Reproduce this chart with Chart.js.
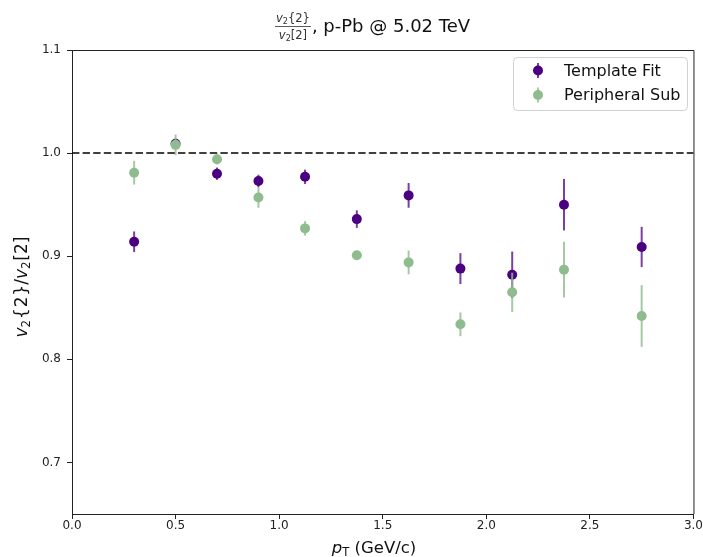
<!DOCTYPE html>
<html>
<head>
<meta charset="utf-8">
<script src="https://cdn.jsdelivr.net/npm/chart.js@4.4.1/dist/chart.umd.min.js"></script>
<style>
  html, body { margin: 0; padding: 0; background: #fff; }
  canvas { display: block; }
</style>
</head>
<body>
<canvas id="c" width="703" height="557"></canvas>
<script>
// pT bin centres (GeV/c)
const pt = [0.3, 0.5, 0.7, 0.9, 1.125, 1.375, 1.625, 1.875, 2.125, 2.375, 2.75];

// v2{2}/v2[2] from the template fit, with uncertainties
const templateFit    = [0.914, 1.009, 0.980, 0.973, 0.977, 0.936, 0.959, 0.888, 0.882, 0.950, 0.909];
const templateFitErr = [0.010, 0.005, 0.006, 0.006, 0.007, 0.0085, 0.012, 0.015, 0.0225, 0.025, 0.0195];

// v2{2}/v2[2] from peripheral subtraction, with uncertainties
const peripheralSub    = [0.981, 1.008, 0.994, 0.957, 0.927, 0.901, 0.894, 0.834, 0.865, 0.887, 0.842];
const peripheralSubErr = [0.0115, 0.010, 0.005, 0.010, 0.007, 0.003, 0.0115, 0.0115, 0.019, 0.027, 0.030];

const xTicks = [0.0, 0.5, 1.0, 1.5, 2.0, 2.5, 3.0];
const yTicks = [0.7, 0.8, 0.9, 1.0, 1.1];
const referenceLine = 1.0;

const FONT = "'DejaVu Sans', 'Liberation Sans', sans-serif";
const TF_COLOR = 'rgb(75,0,130)';
const TF_BAR = 'rgba(75,0,130,0.75)';
const PS_COLOR = 'rgb(143,188,143)';
const PS_BAR = 'rgba(143,188,143,0.8)';

const toPoints = (xs, ys) => xs.map((x, i) => ({ x: x, y: ys[i] }));

// Draws a run of text pieces (italic / subscript / extra gap) starting at x, baseline y
function richText(ctx, pieces, x, y, size, measureOnly) {
  let cx = x;
  for (const p of pieces) {
    const s = p.sub ? size * 0.7 : size;
    ctx.font = (p.italic ? 'italic ' : '') + s + 'px ' + FONT;
    if (!measureOnly) ctx.fillText(p.t, cx, y + (p.sub ? size * 0.2 : 0));
    cx += ctx.measureText(p.t).width + (p.gap || 0) * size;
  }
  return cx - x;
}

// Vertical error bars drawn just before each dataset's markers
const errorBars = {
  id: 'errorBars',
  beforeDatasetDraw(chart, args) {
    const ds = chart.data.datasets[args.index];
    if (!ds.errors) return;
    const ctx = chart.ctx;
    const xs = chart.scales.x, ys = chart.scales.y;
    ctx.save();
    ctx.strokeStyle = ds.barColor;
    ctx.lineWidth = 2;
    ds.data.forEach((p, i) => {
      const px = xs.getPixelForValue(p.x);
      ctx.beginPath();
      ctx.moveTo(px, ys.getPixelForValue(p.y - ds.errors[i]));
      ctx.lineTo(px, ys.getPixelForValue(p.y + ds.errors[i]));
      ctx.stroke();
    });
    ctx.restore();
  }
};

// Frame, reference line, title, axis titles and legend
const decorations = {
  id: 'decorations',
  afterDatasetsDraw(chart) {
    const ctx = chart.ctx;
    const a = chart.chartArea;
    const ys = chart.scales.y;
    ctx.save();
    // dashed reference line at unity
    const yr = Math.round(ys.getPixelForValue(referenceLine));
    ctx.strokeStyle = 'rgba(0,0,0,0.75)';
    ctx.lineWidth = 2;
    ctx.setLineDash([7.4, 3.2]);
    ctx.beginPath();
    ctx.moveTo(a.left, yr);
    ctx.lineTo(a.right, yr);
    ctx.stroke();
    ctx.restore();
  },
  afterDraw(chart) {
    const ctx = chart.ctx;
    const a = chart.chartArea;
    ctx.save();
    // top and right spines
    ctx.strokeStyle = '#222';
    ctx.lineWidth = 1;
    ctx.beginPath();
    ctx.moveTo(a.left, a.top + 0.5);
    ctx.lineTo(a.right + 0.5, a.top + 0.5);
    ctx.lineTo(a.right + 0.5, a.bottom);
    ctx.stroke();

    ctx.fillStyle = '#111';
    ctx.textBaseline = 'alphabetic';
    ctx.textAlign = 'left';

    // title: fraction followed by text
    const fx = 275;
    const fsz = 11.5;
    const num = [{ t: 'v', italic: true }, { t: '2', sub: true }, { t: '{2}' }];
    const den = [{ t: 'v', italic: true }, { t: '2', sub: true }, { t: '[2]' }];
    const wn = richText(ctx, num, 0, 0, fsz, true);
    const wd = richText(ctx, den, 0, 0, fsz, true);
    const fw = Math.max(wn, wd) + 2;
    ctx.fillStyle = '#333';
    richText(ctx, num, fx + (fw - wn) / 2, 22, fsz);
    richText(ctx, den, fx + (fw - wd) / 2, 39, fsz);
    ctx.fillRect(fx, 26, fw, 0.8);
    ctx.fillStyle = '#111';
    ctx.font = '18px ' + FONT;
    ctx.fillText(', p-Pb @ 5.02 TeV', fx + fw + 1, 32);

    // x axis title
    const xl = [{ t: 'p', italic: true }, { t: 'T', sub: true }, { t: ' (GeV/c)' }];
    const wx = richText(ctx, xl, 0, 0, 16.5, true);
    richText(ctx, xl, 374 - wx / 2, 553, 16.5);

    // y axis title (rotated)
    const yl = [{ t: 'v', italic: true }, { t: '2', sub: true, gap: 0.05 }, { t: '{', gap: 0.05 }, { t: '2', gap: 0.05 }, { t: '}/' },
                { t: 'v', italic: true }, { t: '2', sub: true, gap: 0.05 }, { t: '[2]' }];
    const wy = richText(ctx, yl, 0, 0, 17, true);
    ctx.translate(27, (a.top + a.bottom) / 2 + 5);
    ctx.rotate(-Math.PI / 2);
    richText(ctx, yl, -wy / 2, 0, 17);
    ctx.setTransform(1, 0, 0, 1, 0, 0);

    // legend
    const lx = 513, ly = 57, lw = 174, lh = 53;
    ctx.fillStyle = 'rgba(255,255,255,0.8)';
    ctx.strokeStyle = '#d0d0d0';
    ctx.lineWidth = 1;
    ctx.beginPath();
    ctx.roundRect(lx + 0.5, ly + 0.5, lw, lh, 4);
    ctx.fill();
    ctx.stroke();
    const entries = [0, 1].map(i => chart.data.datasets[i]);
    const rows = [70.5, 95];
    entries.forEach((ds, k) => {
      const cy = rows[k];
      ctx.strokeStyle = ds.barColor;
      ctx.lineWidth = 2;
      ctx.beginPath();
      ctx.moveTo(538, cy - 7.5);
      ctx.lineTo(538, cy + 7.5);
      ctx.stroke();
      ctx.fillStyle = ds.backgroundColor;
      ctx.beginPath();
      ctx.arc(538, cy, 5, 0, Math.PI * 2);
      ctx.fill();
      ctx.fillStyle = '#111';
      ctx.font = '16px ' + FONT;
      ctx.textBaseline = 'middle';
      ctx.fillText(ds.label, 564, cy + 1);
    });
    ctx.restore();
  }
};

new Chart(document.getElementById('c'), {
  type: 'scatter',
  data: {
    datasets: [
      {
        label: 'Template Fit',
        data: toPoints(pt, templateFit),
        errors: templateFitErr,
        barColor: TF_BAR,
        backgroundColor: TF_COLOR,
        borderColor: TF_COLOR,
        pointRadius: 5,
        pointHoverRadius: 5,
        borderWidth: 0,
        order: 1
      },
      {
        label: 'Peripheral Sub',
        data: toPoints(pt, peripheralSub),
        errors: peripheralSubErr,
        barColor: PS_BAR,
        backgroundColor: PS_COLOR,
        borderColor: PS_COLOR,
        pointRadius: 5,
        pointHoverRadius: 5,
        borderWidth: 0,
        order: 0
      }
    ]
  },
  options: {
    responsive: false,
    animation: false,
    devicePixelRatio: 1,
    layout: { padding: { top: 50, right: 8, left: 0, bottom: 0 } },
    plugins: { legend: { display: false }, tooltip: { enabled: false }, title: { display: false } },
    scales: {
      x: {
        type: 'linear',
        min: 0, max: 3,
        afterBuildTicks: s => { s.ticks = xTicks.map(v => ({ value: v })); },
        afterFit: s => { s.height = 43; },
        grid: { display: true, drawOnChartArea: false, drawTicks: true, tickLength: 5, color: '#222', tickWidth: 1 },
        border: { display: true, color: '#222', width: 1 },
        ticks: { color: '#222', font: { family: FONT, size: 12 }, padding: 0, maxRotation: 0,
                 callback: v => Number(v).toFixed(1) }
      },
      y: {
        type: 'linear',
        min: 0.65, max: 1.1,
        afterBuildTicks: s => { s.ticks = yTicks.map(v => ({ value: v })); },
        afterFit: s => { s.width = 72; },
        grid: { display: true, drawOnChartArea: false, drawTicks: true, tickLength: 5, color: '#222', tickWidth: 1 },
        border: { display: true, color: '#222', width: 1 },
        ticks: { color: '#222', font: { family: FONT, size: 12 }, padding: 6,
                 callback: v => Number(v).toFixed(1) }
      }
    }
  },
  plugins: [errorBars, decorations]
});
</script>
</body>
</html>
